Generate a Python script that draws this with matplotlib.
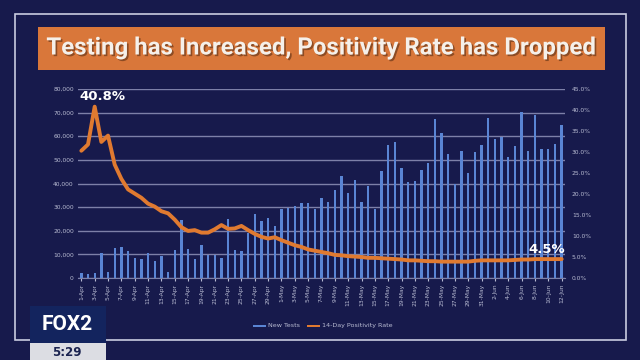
import matplotlib
matplotlib.use("Agg")
import matplotlib.pyplot as plt
import matplotlib.patches as mpatches
import matplotlib.patheffects as pe
import numpy as np
import datetime as dt

# data
start = dt.date(2020, 4, 1)
days = [start + dt.timedelta(days=i) for i in range(73)]
date_labels = [f"{d.day}-{d.strftime('%b')}" for d in days]

new_tests = [2000, 1800, 2200, 10400, 2700, 12800, 13200, 11400, 8600, 8200,
             10700, 7200, 9300, 2500, 11800, 24400, 12100, 7900, 13900, 9600,
             9600, 8300, 25000, 11800, 11500, 19200, 27200, 24100, 25500, 22000,
             29400, 29700, 30400, 31800, 31800, 29300, 33900, 32300, 37200, 43100,
             36100, 41300, 32100, 38900, 29000, 45200, 56200, 57500, 46600, 40600,
             41000, 45600, 48500, 67300, 61400, 52300, 39600, 53700, 44500, 53200,
             56200, 67700, 58900, 59600, 51300, 55800, 70100, 53900, 69200, 54800,
             54400, 56800, 64600]

positivity = [30.3, 31.8, 40.8, 32.4, 33.9, 27.0, 23.6, 21.1, 20.1, 19.1,
              17.7, 17.0, 15.9, 15.4, 13.9, 12.1, 11.2, 11.4, 10.8, 10.8,
              11.6, 12.6, 11.7, 11.8, 12.4, 11.4, 10.5, 9.8, 9.4, 9.7,
              9.0, 8.4, 7.8, 7.4, 6.8, 6.5, 6.2, 5.9, 5.5, 5.4,
              5.2, 5.1, 5.0, 4.8, 4.8, 4.7, 4.6, 4.5, 4.4, 4.2,
              4.2, 4.1, 4.0, 4.0, 3.9, 3.9, 3.9, 3.9, 3.9, 4.1,
              4.2, 4.2, 4.2, 4.2, 4.2, 4.3, 4.4, 4.4, 4.5, 4.5,
              4.5, 4.5, 4.5]

bg = "#171a4c"
bar_col = "#5a85d4"
line_col = "#e07a30"
grid_col = "#7d80a8"
tick_col = "#b8bbd2"

fig = plt.figure(figsize=(6.4, 3.6), dpi=100, facecolor=bg)

# outer frame
fig.add_artist(mpatches.Rectangle((15/640, 1-340/360), 611/640, 326/360,
               transform=fig.transFigure, fill=False, ec="#c9cce0", lw=1.2))

# title banner
fig.add_artist(mpatches.Rectangle((38/640, 1-70/360), 567/640, 43/360,
               transform=fig.transFigure, fc="#d9773a", ec="none"))
title = "Testing has Increased, Positivity Rate has Dropped"
fig.text(320/640, 1-48/360, title, color="#f5f0ea",
         fontsize=17.3, ha="center", va="center",
         family=["Roboto", "DejaVu Sans"], fontweight="bold",
         path_effects=[pe.withSimplePatchShadow(offset=(1.2, -1.2),
                                                shadow_rgbFace="#5a2e14",
                                                alpha=0.6)])

ax = fig.add_axes([78/640, 1-278/360, 487/640, 189/360])
ax.set_facecolor("none")
x = np.arange(len(days))
ax.bar(x, new_tests, width=0.35, color=bar_col, zorder=2)
ax.set_xlim(-0.5, len(days) - 0.5)
ax.set_ylim(0, 80000)
ax.set_yticks(np.arange(0, 80001, 10000))
ax.set_yticklabels([f"{v:,}" for v in range(0, 80001, 10000)])
ax.grid(axis="y", color=grid_col, lw=1, zorder=0)
ax.set_xticks(x[::2])
ax.set_xticklabels(date_labels[::2], rotation=90)
ax.tick_params(axis="both", colors=tick_col, labelsize=4.3, length=0, pad=3)
ax.tick_params(axis="x", length=2, color=tick_col, pad=2)
for s in ax.spines.values():
    s.set_visible(False)
ax.spines["bottom"].set_visible(True)
ax.spines["bottom"].set_color(grid_col)

ax2 = ax.twinx()
ax2.plot(x, positivity, color=line_col, lw=2.8, solid_capstyle="round",
         solid_joinstyle="round", zorder=3)
ax2.set_ylim(0, 45)
ax2.set_yticks(np.arange(0, 46, 5))
ax2.set_yticklabels([f"{v:.1f}%" for v in range(0, 46, 5)])
ax2.tick_params(axis="y", colors=tick_col, labelsize=4.3, length=0, pad=5)
for s in ax2.spines.values():
    s.set_visible(False)

ax2.annotate("40.8%", (2, 40.8), xytext=(3.2, 43.2), color="white",
             fontsize=9.5, fontweight="bold", ha="center", va="center")
ax2.annotate("4.5%", (72, 4.5), xytext=(69.8, 6.8), color="white",
             fontsize=9.5, fontweight="bold", ha="center", va="center")

# legend
fig.add_artist(mpatches.Rectangle((253/640, 1-327/360), 13/640, 2.5/360,
               transform=fig.transFigure, fc=bar_col, ec="none"))
fig.text(268/640, 1-325.5/360, "New Tests", color=tick_col, fontsize=4.6,
         va="center", ha="left")
fig.add_artist(mpatches.Rectangle((307/640, 1-327/360), 13/640, 2.5/360,
               transform=fig.transFigure, fc=line_col, ec="none"))
fig.text(322/640, 1-325.5/360, "14-Day Positivity Rate", color=tick_col,
         fontsize=4.6, va="center", ha="left")

# station logo
fig.add_artist(mpatches.Rectangle((30/640, 1-343/360), 76/640, 37/360,
               transform=fig.transFigure, fc="#13245e", ec="none"))
fig.add_artist(mpatches.Rectangle((30/640, 0), 76/640, 17/360,
               transform=fig.transFigure, fc="#dcdde3", ec="none"))
fig.text(67/640, 1-325/360, "FOX2", color="white", fontsize=15,
         fontweight="bold", ha="center", va="center",
         family=["Roboto", "DejaVu Sans"])
fig.text(67/640, 1-352/360, "5:29", color="#1b2350", fontsize=8.5,
         fontweight="bold", ha="center", va="center")

fig.savefig("out.png", dpi=100, facecolor=bg)
